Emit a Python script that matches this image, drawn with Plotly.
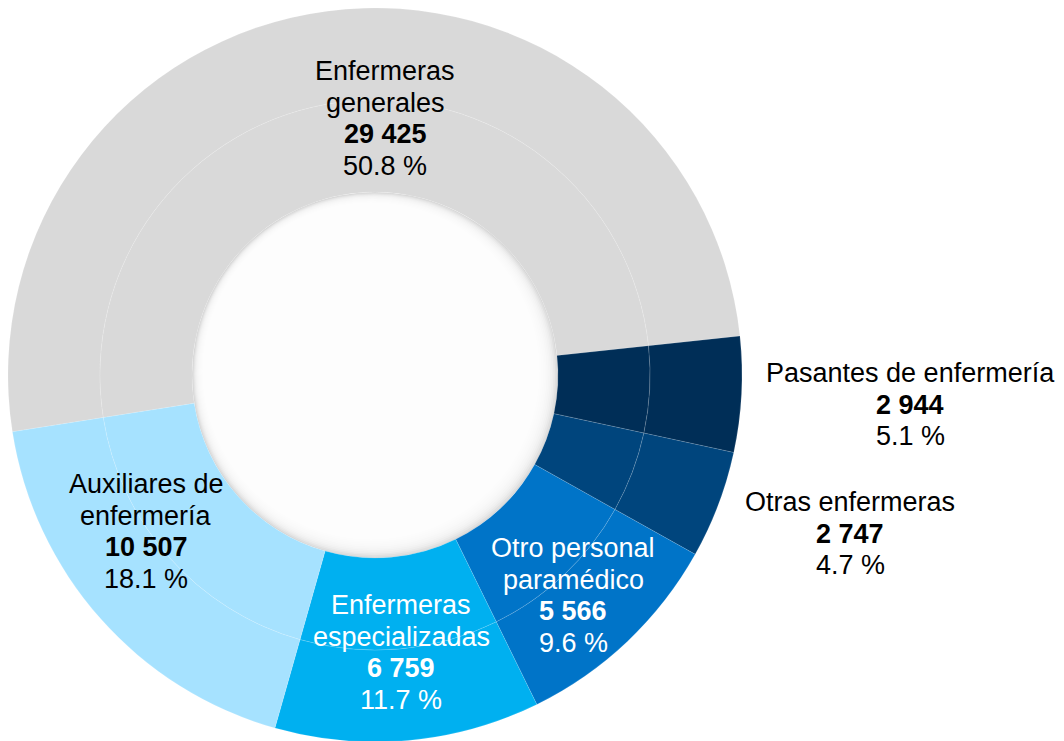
import plotly.graph_objects as go

# ---- data ----
labels = ["Enfermeras generales", "Pasantes de enfermería", "Otras enfermeras",
          "Otro personal paramédico", "Enfermeras especializadas", "Auxiliares de enfermería"]
label_lines = [["Enfermeras", "generales"], ["Pasantes de enfermería"], ["Otras enfermeras"],
               ["Otro personal", "paramédico"], ["Enfermeras", "especializadas"],
               ["Auxiliares de", "enfermería"]]
values = [29425, 2944, 2747, 5566, 6759, 10507]
colors = ["#d9d9d9", "#002e57", "#00457d", "#0074c8", "#00b0f0", "#a6e2ff"]
text_colors = ["black", "black", "black", "white", "white", "black"]
# label anchor: centre x and first-line baseline y, in page pixels
label_px = [(385, 81), (910, 383), (850, 512), (573, 558), (401, 615), (146, 494)]

W, H = 1064, 741
PAGE_OFF = 8  # browser body margin
CX, CY, R_OUT, R_MID, R_IN = 375 - PAGE_OFF, 375 - PAGE_OFF, 367, 275, 183
FS = 27
LINE_STEP = 31.6

total = sum(values)

def fmt_num(v):
    return f"{v:,}".replace(",", " ")

def px_domain(r):
    x0, x1 = (CX - r) / W, (CX + r) / W
    y0, y1 = (H - (CY + r)) / H, (H - (CY - r)) / H
    return dict(x=[max(0, x0), min(1, x1)], y=[max(0, y0), min(1, y1)])

rotation = 261.1
line = dict(color="rgba(255,255,255,0.22)", width=0.6)

fig = go.Figure()
# outer ring
fig.add_trace(go.Pie(labels=labels, values=values, sort=False, direction="clockwise",
                     rotation=rotation, hole=R_MID / R_OUT, textinfo="none",
                     marker=dict(colors=colors, line=line), domain=px_domain(R_OUT),
                     showlegend=False))
# inner ring
fig.add_trace(go.Pie(labels=labels, values=values, sort=False, direction="clockwise",
                     rotation=rotation, hole=R_IN / R_MID, textinfo="none",
                     marker=dict(colors=colors, line=line), domain=px_domain(R_MID),
                     showlegend=False))

# soft shading inside the hole
shapes = []
def circ(r, color, opacity, dx=0.0, dy=0.0):
    cx, cy = CX + dx, CY + dy
    return dict(type="circle", xref="paper", yref="paper",
                x0=(cx - r) / W, x1=(cx + r) / W,
                y0=(H - (cy + r)) / H, y1=(H - (cy - r)) / H,
                fillcolor=color, opacity=opacity, line=dict(width=0), layer="below")
shapes.append(circ(R_IN, "#d6d6d6", 1))
for k in range(16):
    shapes.append(circ(R_IN - 1.3 * k - 1, "white", 0.26, dx=-0.4 * k, dy=-0.4 * k))

annotations = []
for lines, v, c, (px, py) in zip(label_lines, values, text_colors, label_px):
    all_lines = lines + [f"<b>{fmt_num(v)}</b>", f"{v / total * 100:.1f} %"]
    for i, t in enumerate(all_lines):
        base = py + i * LINE_STEP - PAGE_OFF
        yc = base - 0.36 * FS
        annotations.append(dict(text=t, x=(px - PAGE_OFF) / W, y=(H - yc) / H,
                                xref="paper", yref="paper",
                                xanchor="center", yanchor="middle", showarrow=False,
                                font=dict(family="Liberation Sans, Arial", size=FS, color=c)))

fig.update_layout(width=W, height=H, margin=dict(l=0, r=0, t=0, b=0),
                  paper_bgcolor="white", plot_bgcolor="white",
                  shapes=shapes, annotations=annotations)

fig.write_html("out.html")
